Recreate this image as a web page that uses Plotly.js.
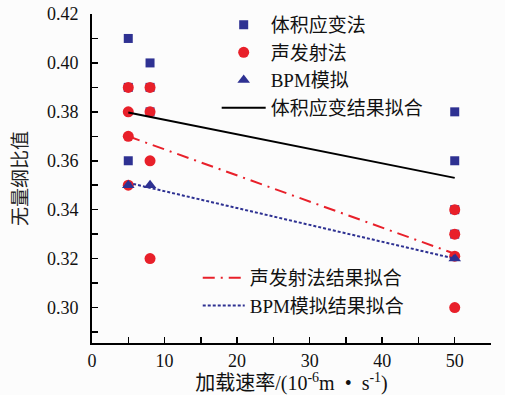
<!DOCTYPE html>
<html>
<head>
<meta charset="utf-8">
<script src="https://cdn.plot.ly/plotly-3.0.1.min.js"></script>
<style>html,body{margin:0;padding:0;background:#fcfcfc;}#chart{width:505px;height:395px;}</style>
</head>
<body>
<div id="chart"></div>
<script>
// Data
const volX = [5, 5, 5, 8, 8, 8, 50, 50, 50, 50];
const volY = [0.41, 0.39, 0.36, 0.40, 0.39, 0.38, 0.38, 0.36, 0.34, 0.33];
const aeX = [5, 5, 5, 5, 8, 8, 8, 8, 50, 50, 50, 50];
const aeY = [0.39, 0.38, 0.37, 0.35, 0.39, 0.38, 0.36, 0.32, 0.34, 0.33, 0.321, 0.30];
const bpmX = [5, 8, 50];
const bpmY = [0.35, 0.35, 0.32];
const fitX = [5, 50];
const volFitY = [0.3797, 0.353];
const aeFitY = [0.370, 0.322];
const bpmFitY = [0.351, 0.320];
const names = ['体积应变法', '声发射法', 'BPM模拟', '体积应变结果拟合', '声发射法结果拟合', 'BPM模拟结果拟合'];

const FONT = 'Liberation Serif, Times New Roman, Noto Sans CJK SC, serif';
const BLUE = '#2e3192';
const RED = '#e8202a';

const traces = [
  {x: volX, y: volY, mode: 'markers', type: 'scatter', name: names[0],
   marker: {symbol: 'square', size: 9, color: BLUE}, legend: 'legend'},
  {x: aeX, y: aeY, mode: 'markers', type: 'scatter', name: names[1],
   marker: {symbol: 'circle', size: 11, color: RED}, legend: 'legend'},
  {x: bpmX, y: bpmY, mode: 'markers', type: 'scatter', name: names[2],
   marker: {symbol: 'triangle-up', size: 11, color: BLUE}, legend: 'legend'},
  {x: fitX, y: volFitY, mode: 'lines', type: 'scatter', name: names[3],
   line: {color: '#000000', width: 2}, legend: 'legend'},
  {x: fitX, y: aeFitY, mode: 'lines', type: 'scatter', name: names[4],
   line: {color: RED, width: 2, dash: '12px,6px,2px,6px'}, legend: 'legend2'},
  {x: fitX, y: bpmFitY, mode: 'lines', type: 'scatter', name: names[5],
   line: {color: BLUE, width: 2, dash: '3px,2px'}, legend: 'legend2'}
];

const layout = {
  width: 505, height: 395,
  margin: {l: 92, r: 14, t: 14, b: 52, autoexpand: false},
  paper_bgcolor: '#fcfcfc', plot_bgcolor: '#fcfcfc',
  font: {family: FONT, size: 18, color: '#111'},
  showlegend: true,
  xaxis: {
    range: [0, 55], tick0: 0, dtick: 10, ticks: 'inside', ticklen: 6, tickwidth: 1.5,
    tickcolor: '#000', showline: true, linecolor: '#000', linewidth: 2, showgrid: false, zeroline: false,
    minor: {dtick: 5, ticks: 'inside', ticklen: 6, tickwidth: 1.5, tickcolor: '#000', showgrid: false},
    tickfont: {family: FONT, size: 18, color: '#111'},
    title: {text: '加载速率/(10<sup>-6</sup>m  •  s<sup>-1</sup>)', font: {family: FONT, size: 20, color: '#111'}, standoff: 10}
  },
  yaxis: {
    range: [0.2855, 0.42], tick0: 0.30, dtick: 0.02, ticks: 'inside', ticklen: 6, tickwidth: 1.5,
    tickcolor: '#000', showline: true, linecolor: '#000', linewidth: 2, showgrid: false, zeroline: false,
    tickformat: '.2f', ticklabelstandoff: 8,
    minor: {dtick: 0.01, tick0: 0.30, ticks: 'inside', ticklen: 6, tickwidth: 1.5, tickcolor: '#000', showgrid: false},
    tickfont: {family: FONT, size: 18, color: '#111'},
    title: {text: '无量纲比值', font: {family: 'Noto Sans CJK SC, sans-serif', size: 19, color: '#222'}, standoff: 14}
  },
  legend: {x: 0.3125, y: 1.025, xanchor: 'left', yanchor: 'top', bgcolor: 'rgba(0,0,0,0)',
           font: {family: FONT, size: 19, color: '#111'}, tracegroupgap: 0, itemwidth: 44},
  legend2: {x: 0.265, y: 0.055, xanchor: 'left', yanchor: 'bottom', bgcolor: 'rgba(0,0,0,0)',
            font: {family: FONT, size: 19, color: '#111'}, tracegroupgap: 0, itemwidth: 42}
};

Plotly.newPlot('chart', traces, layout, {displayModeBar: false, staticPlot: true});
</script>
</body>
</html>
